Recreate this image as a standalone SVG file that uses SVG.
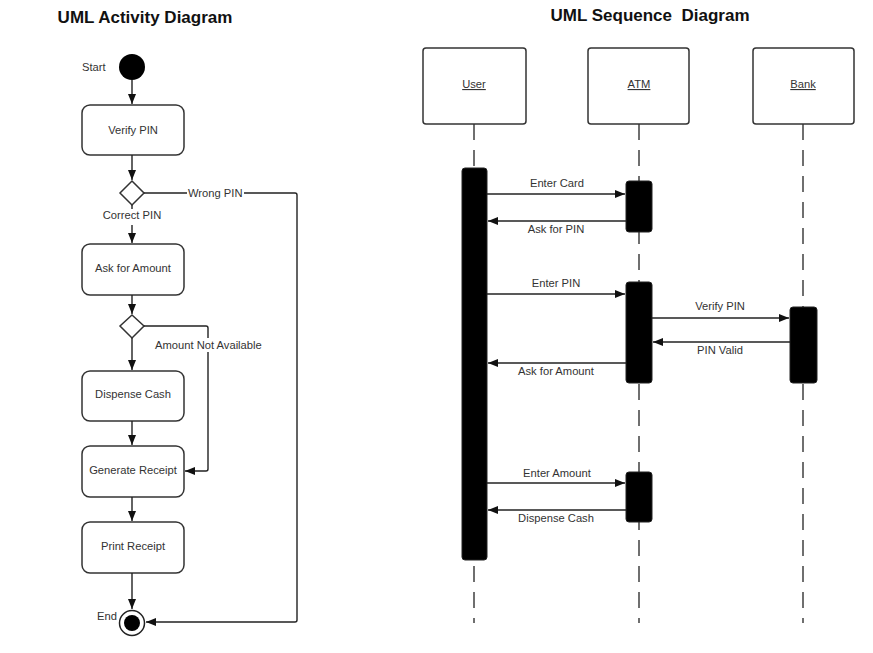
<svg xmlns="http://www.w3.org/2000/svg" width="873" height="653" viewBox="0 0 873 653">
<style>
  .t{font-family:"Liberation Sans",Arial,sans-serif;font-size:11.2px;fill:#333;}
  .c{text-anchor:middle;}
  .title{font-family:"Liberation Sans",Arial,sans-serif;font-size:17px;font-weight:bold;fill:#111;text-anchor:middle;white-space:pre;}
  .box{fill:#fff;stroke:#333;stroke-width:1.5;}
  .ln{fill:none;stroke:#222;stroke-width:1.4;}
  .life{fill:none;stroke:#333;stroke-width:1.4;stroke-dasharray:16 10;}
  .act{fill:#000;stroke:#222;stroke-width:1;}
  .u{text-decoration:underline;}
</style>
<defs>
  <marker id="ah" markerWidth="11" markerHeight="9" refX="10" refY="4" orient="auto" markerUnits="userSpaceOnUse">
    <path d="M0,0 L10,4 L0,8 z" fill="#111"/>
  </marker>
</defs>
<rect width="873" height="653" fill="#fff"/>

<text class="title" x="145" y="23">UML Activity Diagram</text>
<text class="title" x="650" y="21">UML Sequence  Diagram</text>

<!-- Activity nodes -->
<g id="start">
  <circle cx="132" cy="67" r="13" fill="#000"/>
  <text class="t" x="82" y="71">Start</text>
</g>
<g id="verify-pin"><rect class="box" x="82" y="105" width="102" height="50" rx="8"/><text class="t c" x="133" y="134">Verify PIN</text></g>
<g id="decision-pin"><path class="box" d="M132,181 L144,193 L132,205 L120,193 z"/></g>
<g id="ask-amount"><rect class="box" x="82" y="244" width="102" height="51" rx="8"/><text class="t c" x="133" y="272">Ask for Amount</text></g>
<g id="decision-amount"><path class="box" d="M132,315 L144,326 L132,338 L120,326 z"/></g>
<g id="dispense-cash"><rect class="box" x="82" y="371" width="102" height="50" rx="8"/><text class="t c" x="133" y="398">Dispense Cash</text></g>
<g id="generate-receipt"><rect class="box" x="82" y="446" width="102" height="51" rx="8"/><text class="t c" x="133" y="474">Generate Receipt</text></g>
<g id="print-receipt"><rect class="box" x="82" y="522" width="102" height="51" rx="8"/><text class="t c" x="133" y="550">Print Receipt</text></g>
<g id="end">
  <circle cx="132" cy="623" r="12.5" fill="#fff" stroke="#222" stroke-width="1.5"/>
  <circle cx="132" cy="623" r="8" fill="#000"/>
  <text class="t" x="97" y="620">End</text>
</g>

<!-- Activity connectors -->
<g id="activity-connectors">
  <line class="ln" x1="132" y1="80" x2="132" y2="104" marker-end="url(#ah)"/>
  <line class="ln" x1="132" y1="155" x2="132" y2="180" marker-end="url(#ah)"/>
  <line class="ln" x1="132" y1="205" x2="132" y2="209"/>
  <text class="t c" x="132" y="219">Correct PIN</text>
  <line class="ln" x1="132" y1="225" x2="132" y2="243" marker-end="url(#ah)"/>
  <path class="ln" d="M144,193 H295 Q297,193 297,195 V620 Q297,622 295,622 H146" marker-end="url(#ah)"/>
  <rect x="187" y="186" width="57" height="14" fill="#fff"/>
  <text class="t" x="188" y="197">Wrong PIN</text>
  <line class="ln" x1="132" y1="295" x2="132" y2="314" marker-end="url(#ah)"/>
  <path class="ln" d="M144,326 H206 Q208,326 208,328 V469 Q208,471 206,471 H185" marker-end="url(#ah)"/>
  <rect x="153" y="338" width="112" height="14" fill="#fff"/>
  <text class="t" x="155" y="349">Amount Not Available</text>
  <line class="ln" x1="132" y1="338" x2="132" y2="370" marker-end="url(#ah)"/>
  <line class="ln" x1="132" y1="421" x2="132" y2="445" marker-end="url(#ah)"/>
  <line class="ln" x1="132" y1="497" x2="132" y2="521" marker-end="url(#ah)"/>
  <line class="ln" x1="132" y1="573" x2="132" y2="609" marker-end="url(#ah)"/>
</g>

<!-- Sequence lifelines -->
<g id="user">
  <rect class="box" x="423" y="48" width="103" height="76" rx="3"/>
  <text class="t c u" x="474" y="88">User</text>
  <line class="life" x1="474" y1="124" x2="474" y2="623"/>
  <rect class="act" x="462" y="168" width="25" height="392" rx="3"/>
</g>
<g id="atm">
  <rect class="box" x="588" y="48" width="101" height="76" rx="3"/>
  <text class="t c u" x="639" y="88">ATM</text>
  <line class="life" x1="639" y1="124" x2="639" y2="623"/>
  <rect class="act" x="626" y="181" width="26" height="51" rx="3"/>
  <rect class="act" x="626" y="282" width="26" height="101" rx="3"/>
  <rect class="act" x="626" y="472" width="26" height="50" rx="3"/>
</g>
<g id="bank">
  <rect class="box" x="753" y="48" width="101" height="76" rx="3"/>
  <text class="t c u" x="803" y="88">Bank</text>
  <line class="life" x1="803" y1="124" x2="803" y2="623"/>
  <rect class="act" x="790" y="307" width="27" height="76" rx="3"/>
</g>

<!-- Sequence messages -->
<g id="messages">
  <line class="ln" x1="487" y1="194" x2="625" y2="194" marker-end="url(#ah)"/>
  <text class="t c" x="557" y="187">Enter Card</text>
  <line class="ln" x1="626" y1="221" x2="488" y2="221" marker-end="url(#ah)"/>
  <text class="t c" x="556" y="233">Ask for PIN</text>
  <line class="ln" x1="487" y1="294" x2="625" y2="294" marker-end="url(#ah)"/>
  <text class="t c" x="556" y="287">Enter PIN</text>
  <line class="ln" x1="652" y1="318" x2="789" y2="318" marker-end="url(#ah)"/>
  <text class="t c" x="720" y="310">Verify PIN</text>
  <line class="ln" x1="790" y1="342" x2="653" y2="342" marker-end="url(#ah)"/>
  <text class="t c" x="720" y="354">PIN Valid</text>
  <line class="ln" x1="626" y1="363" x2="488" y2="363" marker-end="url(#ah)"/>
  <text class="t c" x="556" y="375">Ask for Amount</text>
  <line class="ln" x1="487" y1="483" x2="625" y2="483" marker-end="url(#ah)"/>
  <text class="t c" x="557" y="477">Enter Amount</text>
  <line class="ln" x1="626" y1="510" x2="488" y2="510" marker-end="url(#ah)"/>
  <text class="t c" x="556" y="522">Dispense Cash</text>
</g>
</svg>
